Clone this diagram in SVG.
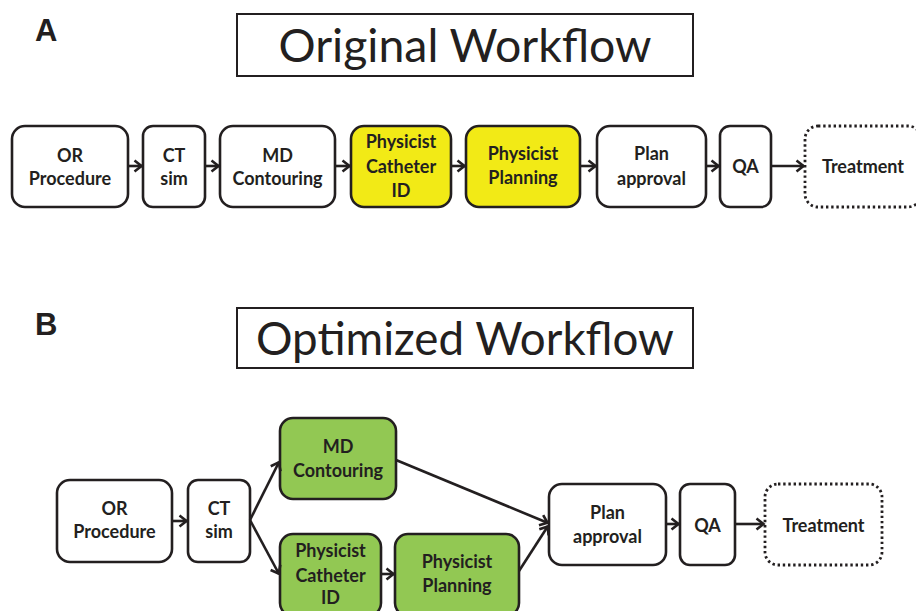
<svg xmlns="http://www.w3.org/2000/svg" width="916" height="611" viewBox="0 0 916 611">
<defs>
<style>
.box{fill:#fff;stroke:#231f20;stroke-width:2.6}
.yel{fill:#f2ea16;stroke:#231f20;stroke-width:2.6}
.grn{fill:#92c853;stroke:#231f20;stroke-width:2.6}
.dot{fill:#fff;stroke:#231f20;stroke-width:2.8;stroke-dasharray:2.4 2.8}
.title{fill:#fff;stroke:#231f20;stroke-width:2}
.t{font-family:Lato,"Open Sans","Liberation Sans",sans-serif;font-weight:bold;font-size:18px;fill:#231f20;text-anchor:middle}
.h{font-family:Lato,"Open Sans","Liberation Sans",sans-serif;font-size:46px;fill:#231f20;text-anchor:middle}
.lab{font-family:"Liberation Sans",Arial,sans-serif;font-weight:bold;font-size:31px;fill:#231f20}
.c{fill:none;stroke:#231f20;stroke-width:2.6}
</style>
<marker id="ah" markerWidth="12" markerHeight="14" refX="10" refY="7" orient="auto" markerUnits="userSpaceOnUse">
<path d="M2.5,1.5 L9.5,7 L2.5,12.5" fill="none" stroke="#231f20" stroke-width="2.6"/>
</marker>
</defs>
<rect width="916" height="611" fill="#fff"/>

<g id="labelA"><text class="lab" x="35" y="41">A</text></g>
<g id="titleA"><rect class="title" x="237" y="14" width="456" height="62"/><text class="h" x="465" y="62" textLength="373" lengthAdjust="spacingAndGlyphs">Original Workflow</text></g>

<g id="a-or"><rect class="box" x="12" y="126" width="116" height="81" rx="13"/><text class="t" x="70" y="162">OR</text><text class="t" x="70" y="185">Procedure</text></g>
<g id="a-ct"><rect class="box" x="143" y="126" width="62" height="81" rx="10"/><text class="t" x="174" y="162">CT</text><text class="t" x="174" y="185">sim</text></g>
<g id="a-md"><rect class="box" x="220" y="126" width="115" height="81" rx="13"/><text class="t" x="277.5" y="162">MD</text><text class="t" x="277.5" y="185">Contouring</text></g>
<g id="a-cath"><rect class="yel" x="351" y="126" width="100" height="81" rx="13"/><text class="t" x="401" y="148">Physicist</text><text class="t" x="401" y="173">Catheter</text><text class="t" x="401" y="197">ID</text></g>
<g id="a-plan"><rect class="yel" x="466" y="126" width="114" height="81" rx="13"/><text class="t" x="523" y="160">Physicist</text><text class="t" x="523" y="184">Planning</text></g>
<g id="a-appr"><rect class="box" x="597" y="126" width="109" height="81" rx="13"/><text class="t" x="651.5" y="160">Plan</text><text class="t" x="651.5" y="185">approval</text></g>
<g id="a-qa"><rect class="box" x="720" y="126" width="51" height="81" rx="10"/><text class="t" x="745.5" y="173">QA</text></g>
<g id="a-tr"><rect class="dot" x="805" y="126" width="116" height="81" rx="13"/><text class="t" x="863" y="173">Treatment</text></g>

<g id="connectors-a">
<line class="c" x1="128" y1="166" x2="142" y2="166" marker-end="url(#ah)"/>
<line class="c" x1="205" y1="166" x2="219" y2="166" marker-end="url(#ah)"/>
<line class="c" x1="335" y1="166" x2="350" y2="166" marker-end="url(#ah)"/>
<line class="c" x1="451" y1="166" x2="465" y2="166" marker-end="url(#ah)"/>
<line class="c" x1="580" y1="166" x2="596" y2="166" marker-end="url(#ah)"/>
<line class="c" x1="706" y1="166" x2="719" y2="166" marker-end="url(#ah)"/>
<line class="c" x1="771" y1="166" x2="804" y2="166" marker-end="url(#ah)"/>
</g>

<g id="labelB"><text class="lab" x="35" y="335">B</text></g>
<g id="titleB"><rect class="title" x="237" y="308" width="456" height="60"/><text class="h" x="465" y="355" textLength="418" lengthAdjust="spacingAndGlyphs">Optimized Workflow</text></g>

<g id="b-or"><rect class="box" x="57" y="480" width="115" height="82" rx="13"/><text class="t" x="114.5" y="515">OR</text><text class="t" x="114.5" y="538">Procedure</text></g>
<g id="b-ct"><rect class="box" x="188" y="480" width="62" height="82" rx="10"/><text class="t" x="219" y="515">CT</text><text class="t" x="219" y="538">sim</text></g>
<g id="b-md"><rect class="grn" x="280" y="418" width="116" height="81" rx="13"/><text class="t" x="338" y="453">MD</text><text class="t" x="338" y="477">Contouring</text></g>
<g id="b-cath"><rect class="grn" x="280" y="534" width="101" height="82" rx="13"/><text class="t" x="330.5" y="557">Physicist</text><text class="t" x="330.5" y="582">Catheter</text><text class="t" x="330.5" y="604">ID</text></g>
<g id="b-plan"><rect class="grn" x="395" y="534" width="124" height="82" rx="13"/><text class="t" x="457" y="568">Physicist</text><text class="t" x="457" y="592">Planning</text></g>
<g id="b-appr"><rect class="box" x="549" y="484" width="117" height="81" rx="13"/><text class="t" x="607.5" y="519">Plan</text><text class="t" x="607.5" y="543">approval</text></g>
<g id="b-qa"><rect class="box" x="680" y="484" width="55" height="81" rx="10"/><text class="t" x="707.5" y="532">QA</text></g>
<g id="b-tr"><rect class="dot" x="765" y="484" width="117" height="81" rx="13"/><text class="t" x="823.5" y="532">Treatment</text></g>

<g id="connectors-b">
<line class="c" x1="172" y1="521" x2="187" y2="521" marker-end="url(#ah)"/>
<line class="c" x1="250" y1="520" x2="279" y2="462" marker-end="url(#ah)"/>
<line class="c" x1="250" y1="520" x2="279" y2="574" marker-end="url(#ah)"/>
<line class="c" x1="381" y1="574" x2="394" y2="574" marker-end="url(#ah)"/>
<line class="c" x1="396" y1="460" x2="548" y2="523" marker-end="url(#ah)"/>
<line class="c" x1="519" y1="571" x2="548" y2="526" marker-end="url(#ah)"/>
<line class="c" x1="666" y1="524" x2="679" y2="524" marker-end="url(#ah)"/>
<line class="c" x1="735" y1="524" x2="764" y2="524" marker-end="url(#ah)"/>
</g>
</svg>
